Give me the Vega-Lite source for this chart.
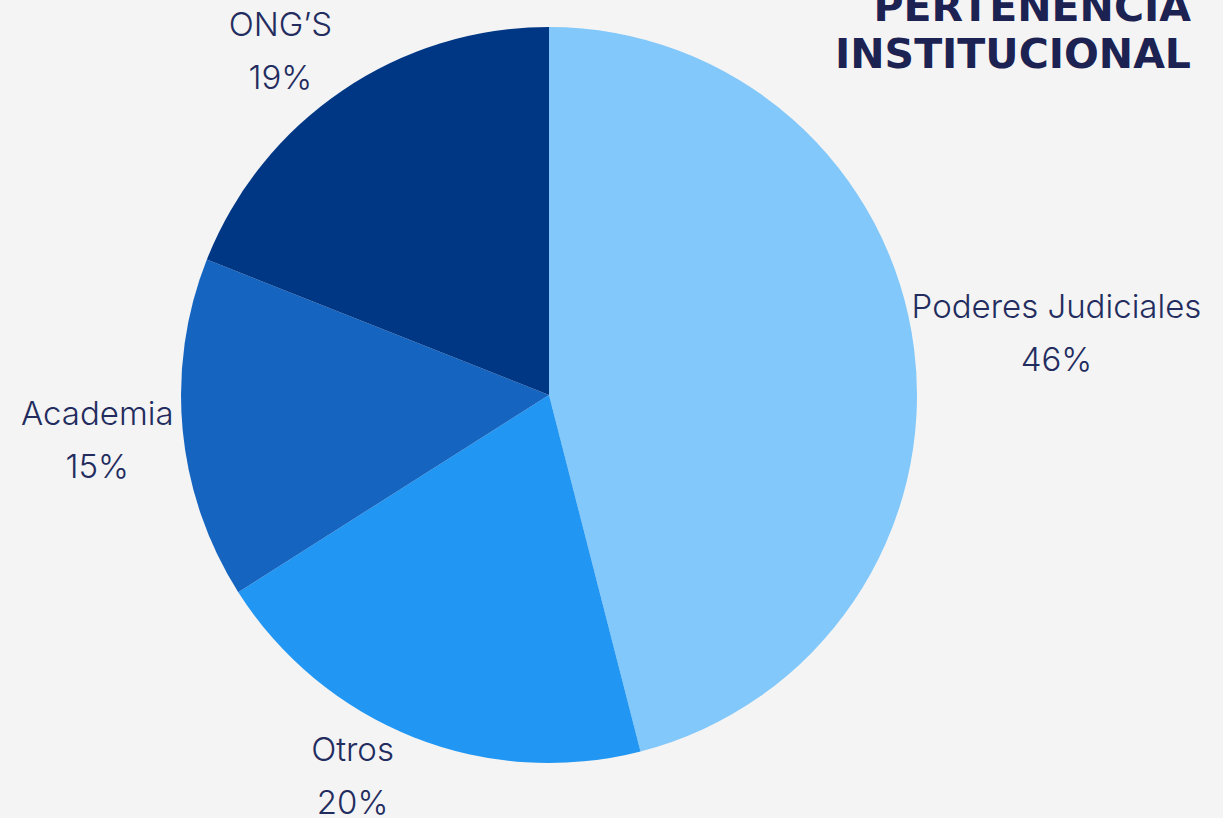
{
  "$schema": "https://vega.github.io/schema/vega-lite/v6.json",
  "autosize": {"type": "none"},
  "width": 1098,
  "height": 630,
  "padding": {"left": 0, "top": 80, "right": 125, "bottom": 108},
  "background": "#F4F4F4",
  "config": {"view": {"stroke": null}},
  "title": {
    "text": ["PERTENENCIA", "INSTITUCIONAL"],
    "anchor": "end",
    "frame": "group",
    "orient": "top",
    "baseline": "top",
    "offset": 0,
    "dx": 93,
    "dy": 67,
    "font": "DejaVu Sans",
    "fontWeight": "bold",
    "fontSize": 41,
    "lineHeight": 47,
    "color": "#1C2251"
  },
  "data": {
    "values": [
      {"categoria": "Poderes Judiciales", "pct": 46, "orden": 1},
      {"categoria": "Otros", "pct": 20, "orden": 2},
      {"categoria": "Academia", "pct": 15, "orden": 3},
      {"categoria": "ONG’S", "pct": 19, "orden": 4}
    ]
  },
  "encoding": {
    "theta": {"field": "pct", "type": "quantitative", "stack": true, "scale": {"domain": [0, 100]}},
    "order": {"field": "orden", "type": "quantitative", "sort": "ascending"}
  },
  "layer": [
    {
      "mark": {"type": "arc", "radius": 368, "stroke": null},
      "encoding": {
        "color": {
          "field": "categoria",
          "type": "nominal",
          "legend": null,
          "scale": {
            "domain": ["Poderes Judiciales", "Otros", "Academia", "ONG’S"],
            "range": ["#82C8FA", "#2196F3", "#1565C0", "#003785"]
          }
        }
      }
    },
    {
      "mark": {
        "type": "text",
        "radius": 372,
        "font": "Inter",
        "fontSize": 33,
        "fontWeight": 300,
        "lineHeight": 53,
        "color": "#232C5E",
        "baseline": "middle",
        "align": "center",
        "dx": {"expr": "(sin((datum.pct_start + datum.pct_end) / 100 * PI) > 0.3 ? 1 : (sin((datum.pct_start + datum.pct_end) / 100 * PI) < -0.3 ? -1 : 0)) * (7.3 * length(datum.categoria) + 15) - 8"},
        "dy": {"expr": "-26.5 - 38 * (cos((datum.pct_start + datum.pct_end) / 100 * PI) < 0 ? -1 : 1) * sqrt(abs(cos((datum.pct_start + datum.pct_end) / 100 * PI)))"}
      },
      "encoding": {
        "text": {"field": "label", "type": "nominal"}
      },
      "transform": [
        {"calculate": "[datum.categoria, datum.pct + '%']", "as": "label"}
      ]
    }
  ]
}
